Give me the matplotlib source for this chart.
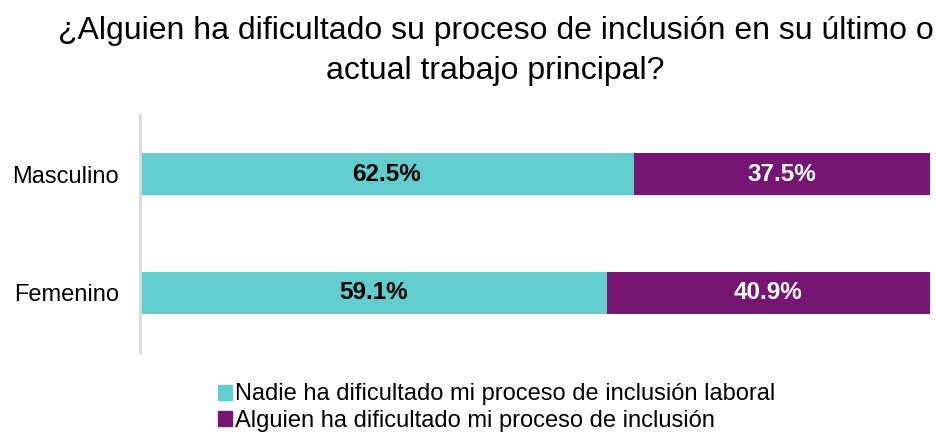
import matplotlib.pyplot as plt
from matplotlib.patches import Patch

plt.rcParams['font.family'] = ['Liberation Sans', 'DejaVu Sans']

categories = ["Masculino", "Femenino"]
nadie = [62.5, 59.1]
alguien = [37.5, 40.9]
series_names = ["Nadie ha dificultado mi proceso de inclusión laboral",
                "Alguien ha dificultado mi proceso de inclusión"]
title = "¿Alguien ha dificultado su proceso de inclusión en su último o\nactual trabajo principal?"

teal = "#5FCECC"
purple = "#761672"

fig = plt.figure(figsize=(9.37, 4.36), dpi=100)
ax = fig.add_axes([140 / 937, (436 - 352) / 436, 790 / 937, 237 / 436])

y = list(range(len(categories)))
ax.barh(y, nadie, height=0.353, color=teal)
ax.barh(y, alguien, left=nadie, height=0.353, color=purple)

for i in y:
    ax.text(nadie[i] / 2, i, f"{nadie[i]:.1f}%", ha="center", va="center",
            fontsize=17.5, fontweight="bold", color="black")
    ax.text(nadie[i] + alguien[i] / 2, i, f"{alguien[i]:.1f}%", ha="center", va="center",
            fontsize=17.5, fontweight="bold", color="white")

ax.set_xlim(0, 100)
ax.set_ylim(1.5, -0.5)
ax.set_yticks(y)
ax.set_yticklabels(categories, fontsize=17)
ax.tick_params(axis="y", length=0, pad=15)
ax.set_xticks([])
for side in ["top", "right", "bottom"]:
    ax.spines[side].set_visible(False)
ax.spines["left"].set_color("#d9d9d9")
ax.spines["left"].set_linewidth(2)

fig.text(0.529, 0.963, title, ha="center", va="top", fontsize=23, linespacing=1.45)

handles = [Patch(color=teal), Patch(color=purple)]
fig.legend(handles, series_names, loc="lower left", bbox_to_anchor=(197 / 937, -0.04),
           frameon=False, fontsize=17, handlelength=0.6, handleheight=0.6,
           handletextpad=0.1, labelspacing=0.2)

fig.savefig("out.png", dpi=100)
